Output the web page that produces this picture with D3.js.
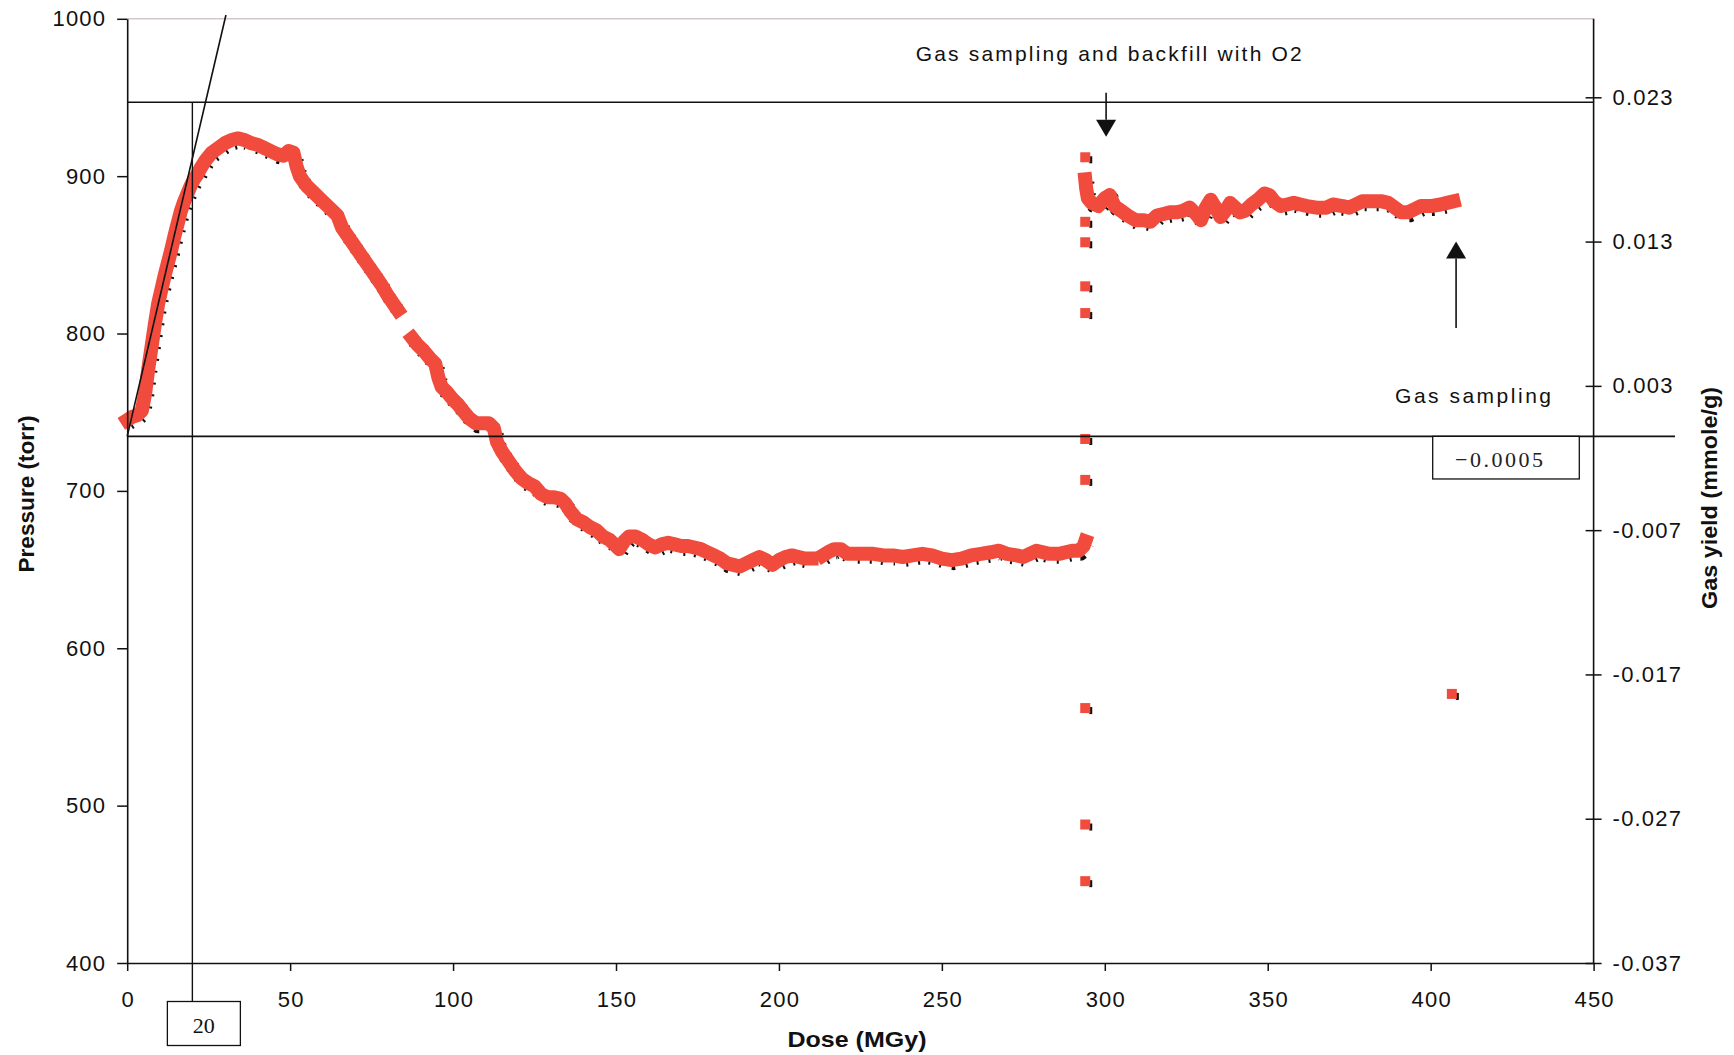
<!DOCTYPE html>
<html>
<head>
<meta charset="utf-8">
<title>Pressure and gas yield versus dose</title>
<script src="https://cdn.jsdelivr.net/npm/d3@7"></script>
<style>
  html, body { margin: 0; padding: 0; background: #ffffff; }
  svg { display: block; }
  .tick text { font-family: "Liberation Sans", Arial, sans-serif; font-size: 22px; letter-spacing: 1.2px; fill: #111; }
</style>
</head>
<body>
<svg id="chart" width="1734" height="1055"></svg>
<script>
// ---- axis ticks ----
const doseTicks = [0, 50, 100, 150, 200, 250, 300, 350, 400, 450];
const pressureTicks = [400, 500, 600, 700, 800, 900, 1000];
const yieldTicks = [0.023, 0.013, 0.003, -0.007, -0.017, -0.027, -0.037];
const yieldTickLabels = ["0.023", "0.013", "0.003", "-0.007", "-0.017", "-0.027", "-0.037"];

// ---- pressure record [dose MGy, pressure torr] ----
// first irradiation, rise to the maximum and start of the decay
const runRise = [
  [0, 745], [1.5, 747], [3, 748], [4.5, 751], [5.5, 762], [6.5, 778], [7.5, 792], [8.5, 806],
  [9.5, 819], [10.5, 828], [11.5, 837], [12.5, 845], [13.5, 853], [14.5, 862], [15.5, 870],
  [16.5, 878], [17.5, 884], [18.5, 889], [19.5, 894], [20.5, 898], [21.5, 901], [22.5, 905],
  [24, 910], [26, 915], [28, 918], [30, 921], [32, 923], [34, 924], [36, 923], [38, 921],
  [40, 920], [42, 918], [44, 916], [46, 914], [48, 913], [49.5, 916], [51, 915], [52, 906],
  [53, 900], [55, 894], [57, 890], [59, 886], [61, 882], [63, 878], [64.5, 875], [66, 867],
  [68, 861], [70, 855], [72, 849], [74, 843], [76, 837], [78, 831], [80, 824], [82, 818], [83, 815]
];
// decay down to the plateau
const runDecay = [
  [87.5, 797], [89, 793], [91, 789], [93, 784], [94.5, 781], [95.5, 772], [96.5, 766], [98, 763],
  [100, 758], [101.5, 755], [103, 751], [105, 746], [107, 743], [109, 743], [111, 743], [112.5, 740],
  [113.5, 731], [115, 725], [117, 719], [119, 713], [121, 708], [123, 705], [125, 703], [127, 698],
  [129, 696], [131, 696], [133, 695], [134.5, 692], [136, 687], [138, 682], [140, 680], [142, 677],
  [144, 675], [146, 671], [148, 669], [150, 665], [151, 663], [152.5, 668], [154, 671], [156, 671],
  [158, 669], [160, 666], [162, 664], [164, 666], [166, 667], [168, 666], [170, 665], [172, 665],
  [174, 664], [176, 663], [178, 661], [180, 659], [182, 657], [184, 654], [186, 653], [188, 652],
  [190, 654], [192, 656], [194, 658], [196, 656], [198, 653], [200, 656], [202, 658], [204, 659],
  [206, 658], [208, 657], [210, 657]
];
// plateau before sampling
const runPlateau = [
  [213.5, 659], [215, 661], [217, 663], [219, 663], [221, 660], [223, 660], [226, 660], [229, 660],
  [232, 659], [235, 659], [238, 658], [241, 659], [244, 660], [247, 659], [250, 657], [253, 656],
  [256, 657], [259, 659], [262, 660], [265, 661], [267.5, 662], [270, 660], [273, 659], [275, 658],
  [277, 660], [279, 662], [281, 661], [283, 660], [286, 660], [288, 661], [290, 662], [292, 662],
  [293.5, 665], [294, 668]
];
// after backfill with O2
const runOxygen = [
  [294, 898], [294.3, 892], [294.8, 886], [296, 883], [298, 881], [300, 886], [301.5, 888], [303, 881],
  [305, 878], [307, 875], [309.5, 872], [312, 872], [314, 871], [316, 875], [318, 876], [320, 877],
  [322, 877], [324, 878], [326, 880], [328, 876], [329.5, 872], [331, 880], [332.5, 885], [334, 880],
  [335.5, 874], [337, 878], [338.5, 883], [340, 880], [341.5, 877], [343, 878], [345, 882], [347, 885],
  [349, 889], [350.5, 888], [352, 884], [354, 881], [356, 882], [358, 883], [360, 882], [362, 881],
  [365, 880], [368, 880], [370, 882], [373, 881], [375, 880], [377, 882], [379, 884], [382, 884],
  [385, 884], [387, 883], [389, 880], [391, 877], [393, 877], [395, 879], [397, 881], [400, 881],
  [403, 882], [405, 883], [407, 884]
];
// single readings taken while the cell was opened and refilled
const ventReadings = [
  [294, 912], [294, 871], [294, 858], [294, 830], [294, 813], [294, 733], [294, 707],
  [294, 562], [294, 488], [294, 452], [406.5, 571]
];

// ---- construction lines ----
const onsetDose = 20;            // dose read at the tangent
const baselineYield = -0.0005;   // initial level, gas-yield axis
const plateauPressure = 947;     // upper reference level
const tangentTop = [30.3, 1002.4];

// ---- annotations ----
const notes = [
  { text: "Gas sampling and backfill with O2", dose: 301.2, pressure: 973.5, len: 386 },
  { text: "Gas sampling", dose: 413, pressure: 756, len: 156 }
];
const arrows = [
  { dose: 300.4, from: 953, to: 925 },   // pointing down
  { dose: 407.8, from: 803.5, to: 858.5 } // pointing up
];

// ---- layout ----
const W = 1734, H = 1055;
const plot = { left: 127.2, right: 1593.6, top: 18.8, bottom: 963 };

const x = d3.scaleLinear().domain([0, 450]).range([plot.left, plot.right]);
const y = d3.scaleLinear().domain([400, 1000]).range([plot.bottom, plot.top]);
const yR = d3.scaleLinear().domain([-0.037, 0.023]).range([plot.bottom, 97.3]);

const svg = d3.select("#chart");
svg.append("rect").attr("width", W).attr("height", H).attr("fill", "#ffffff");

// top frame edge
svg.append("line")
  .attr("x1", plot.left).attr("x2", plot.right)
  .attr("y1", plot.top).attr("y2", plot.top)
  .attr("stroke", "#d6c6c8").attr("stroke-width", 1.5);

// ---- data ----
const red = "#f04b3c";
const line = d3.line().x(d => x(d[0])).y(d => y(d[1]));
const runs = [runRise, runDecay, runPlateau, runOxygen];

const dataG = svg.append("g");
// dark marker edges peeking out at lower right
dataG.selectAll("path.edge").data(runs).join("path")
  .attr("class", "edge")
  .attr("d", line)
  .attr("transform", "translate(2,3)")
  .attr("fill", "none")
  .attr("stroke", "#111")
  .attr("stroke-width", 14)
  .attr("stroke-dasharray", "2 10")
  .attr("stroke-linejoin", "round");
dataG.selectAll("path.run").data(runs).join("path")
  .attr("class", "run")
  .attr("d", line)
  .attr("fill", "none")
  .attr("stroke", red)
  .attr("stroke-width", 14)
  .attr("stroke-linejoin", "round")
  .attr("stroke-linecap", "square");

const ms = 10;
dataG.selectAll("rect.shadow").data(ventReadings).join("rect")
  .attr("class", "shadow")
  .attr("x", d => x(d[0]) + ms / 2 - 1).attr("y", d => y(d[1]) - 1)
  .attr("width", 3).attr("height", ms / 2 + 2).attr("fill", "#111");
dataG.selectAll("rect.pt").data(ventReadings).join("rect")
  .attr("class", "pt")
  .attr("x", d => x(d[0]) - ms / 2).attr("y", d => y(d[1]) - ms / 2)
  .attr("width", ms).attr("height", ms).attr("fill", red);

// ---- construction lines ----
const ink = "#111";
const yPlateau = y(plateauPressure);
const yBase = yR(baselineYield);
const xOnset = x(onsetDose);

svg.append("line")
  .attr("x1", plot.left).attr("x2", plot.right)
  .attr("y1", yPlateau).attr("y2", yPlateau)
  .attr("stroke", ink).attr("stroke-width", 1.6);
svg.append("line")
  .attr("x1", plot.left).attr("x2", 1675)
  .attr("y1", yBase).attr("y2", yBase)
  .attr("stroke", ink).attr("stroke-width", 1.6);
svg.append("line")
  .attr("x1", x(0)).attr("y1", yBase)
  .attr("x2", x(tangentTop[0])).attr("y2", y(tangentTop[1]))
  .attr("stroke", ink).attr("stroke-width", 1.6);

// onset marker and its value box
const box1 = { w: 73, h: 44, top: 1001.5 };
svg.append("line")
  .attr("x1", xOnset).attr("x2", xOnset)
  .attr("y1", yPlateau).attr("y2", box1.top)
  .attr("stroke", ink).attr("stroke-width", 1.4);
svg.append("rect")
  .attr("x", xOnset - 25).attr("y", box1.top).attr("width", box1.w).attr("height", box1.h)
  .attr("fill", "#fff").attr("stroke", ink).attr("stroke-width", 1.3);
svg.append("text")
  .attr("x", xOnset - 25 + box1.w / 2).attr("y", box1.top + 31)
  .attr("text-anchor", "middle")
  .attr("font-family", "'Liberation Serif', 'Times New Roman', serif").attr("font-size", 22)
  .attr("fill", "#111")
  .text(String(onsetDose));

// baseline value box
svg.append("rect")
  .attr("x", 1432.7).attr("y", yBase).attr("width", 146.6).attr("height", 42.6)
  .attr("fill", "#fff").attr("stroke", ink).attr("stroke-width", 1.3);
svg.append("text")
  .attr("x", 1499).attr("y", yBase + 31)
  .attr("text-anchor", "middle")
  .attr("font-family", "'Liberation Serif', 'Times New Roman', serif").attr("font-size", 22)
  .attr("textLength", 88).attr("lengthAdjust", "spacing")
  .attr("fill", "#222")
  .text("\u2212" + String(baselineYield).replace("-", ""));

// ---- axes ----
const xAxis = svg.append("g")
  .attr("transform", `translate(0,${plot.bottom})`)
  .call(d3.axisBottom(x).tickValues(doseTicks).tickSize(8).tickSizeOuter(0).tickPadding(20)
    .tickFormat(d3.format("d")));
const yAxis = svg.append("g")
  .attr("transform", `translate(${plot.left},0)`)
  .call(d3.axisLeft(y).tickValues(pressureTicks).tickSize(10).tickSizeOuter(0).tickPadding(11)
    .tickFormat(d3.format("d")));
const yRAxis = svg.append("g")
  .attr("transform", `translate(${plot.right},0)`)
  .call(d3.axisRight(yR).tickValues(yieldTicks).tickSize(8).tickSizeOuter(0).tickPadding(11)
    .tickFormat((d, i) => yieldTickLabels[i]));
yRAxis.select(".domain").remove();
yRAxis.selectAll(".tick line").attr("x1", -8);
svg.append("line")
  .attr("x1", plot.right).attr("x2", plot.right)
  .attr("y1", plot.top).attr("y2", plot.bottom)
  .attr("stroke", ink).attr("stroke-width", 1.6);

[xAxis, yAxis, yRAxis].forEach(g => {
  g.selectAll(".domain").attr("stroke", ink).attr("stroke-width", 1.6);
  g.selectAll(".tick line").attr("stroke", ink).attr("stroke-width", 1.5);
  g.attr("font-family", null).attr("font-size", null);
});
xAxis.selectAll(".tick text").attr("dx", "0.5px");

// ---- titles ----
const boldFont = "'Liberation Sans', Arial, sans-serif";
svg.append("text")
  .attr("x", 857).attr("y", 1047)
  .attr("text-anchor", "middle")
  .attr("font-family", boldFont).attr("font-weight", "bold").attr("font-size", 22)
  .attr("textLength", 139).attr("lengthAdjust", "spacingAndGlyphs")
  .attr("fill", "#111")
  .text("Dose (MGy)");
svg.append("text")
  .attr("transform", "translate(26.5,494) rotate(-90)")
  .attr("dy", "0.36em")
  .attr("text-anchor", "middle")
  .attr("font-family", boldFont).attr("font-weight", "bold").attr("font-size", 22)
  .attr("textLength", 157).attr("lengthAdjust", "spacingAndGlyphs")
  .attr("fill", "#111")
  .text("Pressure (torr)");
svg.append("text")
  .attr("transform", "translate(1708.6,498) rotate(-90)")
  .attr("dy", "0.36em")
  .attr("text-anchor", "middle")
  .attr("font-family", boldFont).attr("font-weight", "bold").attr("font-size", 22)
  .attr("textLength", 222).attr("lengthAdjust", "spacingAndGlyphs")
  .attr("fill", "#111")
  .text("Gas yield (mmole/g)");

// ---- annotations ----
svg.selectAll("text.note").data(notes).join("text")
  .attr("class", "note")
  .attr("x", d => x(d.dose)).attr("y", d => y(d.pressure))
  .attr("text-anchor", "middle")
  .attr("font-family", "'Liberation Sans', Arial, sans-serif").attr("font-size", 21)
  .attr("textLength", d => d.len).attr("lengthAdjust", "spacing")
  .attr("fill", "#111")
  .text(d => d.text);

arrows.forEach(a => {
  const ax = x(a.dose), y0 = y(a.from), y1 = y(a.to);
  const dir = Math.sign(y1 - y0);
  const head = 17, half = 10;
  svg.append("line")
    .attr("x1", ax).attr("x2", ax)
    .attr("y1", y0).attr("y2", y1 - dir * head)
    .attr("stroke", ink).attr("stroke-width", 1.6);
  svg.append("path")
    .attr("d", `M${ax},${y1} L${ax - half},${y1 - dir * head} L${ax + half},${y1 - dir * head} Z`)
    .attr("fill", ink);
});
</script>
</body>
</html>
